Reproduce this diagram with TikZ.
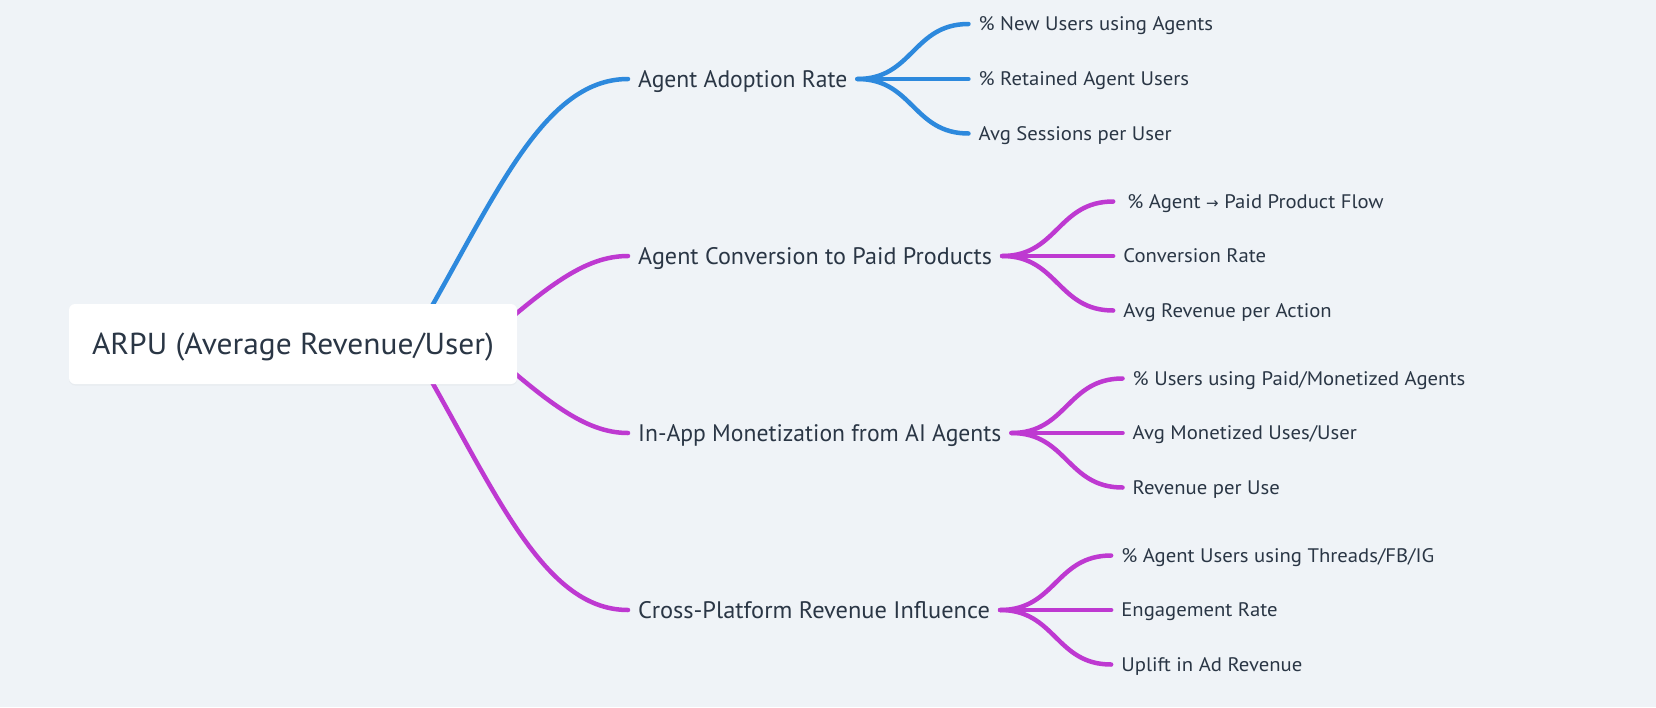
\documentclass[tikz,border=0pt]{standalone}
\usepackage{fontspec}
\usepackage{graphicx}
\setmainfont{PT Sans}
\newfontfamily\rootfont{PT Sans}[FakeStretch=1.038]
\newfontfamily\onefont{PT Sans}[FakeStretch=0.989]
\newfontfamily\twofont{PT Sans}[FakeStretch=1.056]
\newfontfamily\arrowfont{DejaVu Sans}
\usetikzlibrary{calc,shadows}
\definecolor{bgc}{RGB}{239,243,247}
\definecolor{txtc}{RGB}{42,54,69}
\definecolor{blc}{RGB}{45,137,221}
\definecolor{mgc}{RGB}{190,57,209}
\pgfdeclarelayer{back}
\pgfsetlayers{back,main}
\begin{document}
\begin{tikzpicture}[x=1pt,y=-1pt,
  rootbox/.style={fill=white, rounded corners=6pt, minimum width=448pt, minimum height=80pt,
    inner sep=0pt, text=txtc, font=\rootfont\fontsize{30.3}{32}\selectfont, text height=21.2pt, text depth=0pt,
    drop shadow={opacity=0.06, shadow xshift=0pt, shadow yshift=-1.5pt}},
  lone/.style={anchor=west, text=txtc, inner xsep=10pt, inner ysep=0pt,
    font=\onefont\fontsize{23.9}{25}\selectfont, text height=16.7pt, text depth=0pt},
  ltwo/.style={anchor=west, text=txtc, inner xsep=10pt, inner ysep=0pt,
    font=\twofont\fontsize{19.6}{21}\selectfont, text height=13.7pt, text depth=0pt},
  link/.style={line width=4.5pt, line cap=round},
  bl/.style={link, draw=blc},
  mg/.style={link, draw=mgc}
]
\begin{pgfonlayer}{back}
\fill[bgc] (0,0) rectangle (1656,707);
\end{pgfonlayer}
\useasboundingbox (0,0) rectangle (1656,707);

\node[rootbox] (root) at (293,344) {ARPU (Average Revenue/User)};

\node[lone] (a1) at (628,79) {Agent Adoption Rate};
\node[lone] (a2) at (628,256) {\scalebox{1.021}[1]{Agent Conversion to Paid Products}};
\node[lone] (a3) at (628,433) {In-App Monetization from AI Agents};
\node[lone] (a4) at (628,610) {\scalebox{1.033}[1]{Cross-Platform Revenue Influence}};

\node[ltwo] (a1a) at ($(a1.east)+(111,-55)$) {\% New Users using Agents};
\node[ltwo] (a1b) at ($(a1.east)+(111,0)$) {\% Retained Agent Users};
\node[ltwo] (a1c) at ($(a1.east)+(111,54.5)$) {Avg Sessions per User};

\node[ltwo] (a2a) at ($(a2.east)+(111,-54.5)$) {\hspace*{4pt}\% Agent {\arrowfont\fontsize{15}{16}\selectfont →} Paid Product Flow};
\node[ltwo] (a2b) at ($(a2.east)+(111,0)$) {Conversion Rate};
\node[ltwo] (a2c) at ($(a2.east)+(111,54.5)$) {Avg Revenue per Action};

\node[ltwo] (a3a) at ($(a3.east)+(111,-54.5)$) {\% Users using Paid/Monetized Agents};
\node[ltwo] (a3b) at ($(a3.east)+(111,0)$) {Avg Monetized Uses/User};
\node[ltwo] (a3c) at ($(a3.east)+(111,54.5)$) {Revenue per Use};

\node[ltwo] (a4a) at ($(a4.east)+(111,-54.5)$) {\% Agent Users using Threads/FB/IG};
\node[ltwo] (a4b) at ($(a4.east)+(111,0)$) {Engagement Rate};
\node[ltwo] (a4c) at ($(a4.east)+(111,54.5)$) {Uplift in Ad Revenue};

\coordinate (rs1) at ($(root.center)+(117,0)$);
\coordinate (rs2) at ($(root.center)+(188,0)$);

\begin{pgfonlayer}{back}
\draw[bl] (rs1) .. controls +(82,-138) and +(-88,0) .. (a1.west);
\draw[mg] (rs2) .. controls +(66,-58) and +(-43,0) .. (a2.west);
\draw[mg] (rs2) .. controls +(66,58) and +(-43,0) .. (a3.west);
\draw[mg] (rs1) .. controls +(82,138) and +(-88,0) .. (a4.west);
\end{pgfonlayer}

\foreach \p/\s in {a1/bl,a2/mg,a3/mg,a4/mg}{
  \draw[\s] (\p.east) .. controls +(55.5,0) and +(-55.5,0) .. (\p a.west);
  \draw[\s] (\p.east) -- (\p b.west);
  \draw[\s] (\p.east) .. controls +(55.5,0) and +(-55.5,0) .. (\p c.west);
}
\end{tikzpicture}
\end{document}
